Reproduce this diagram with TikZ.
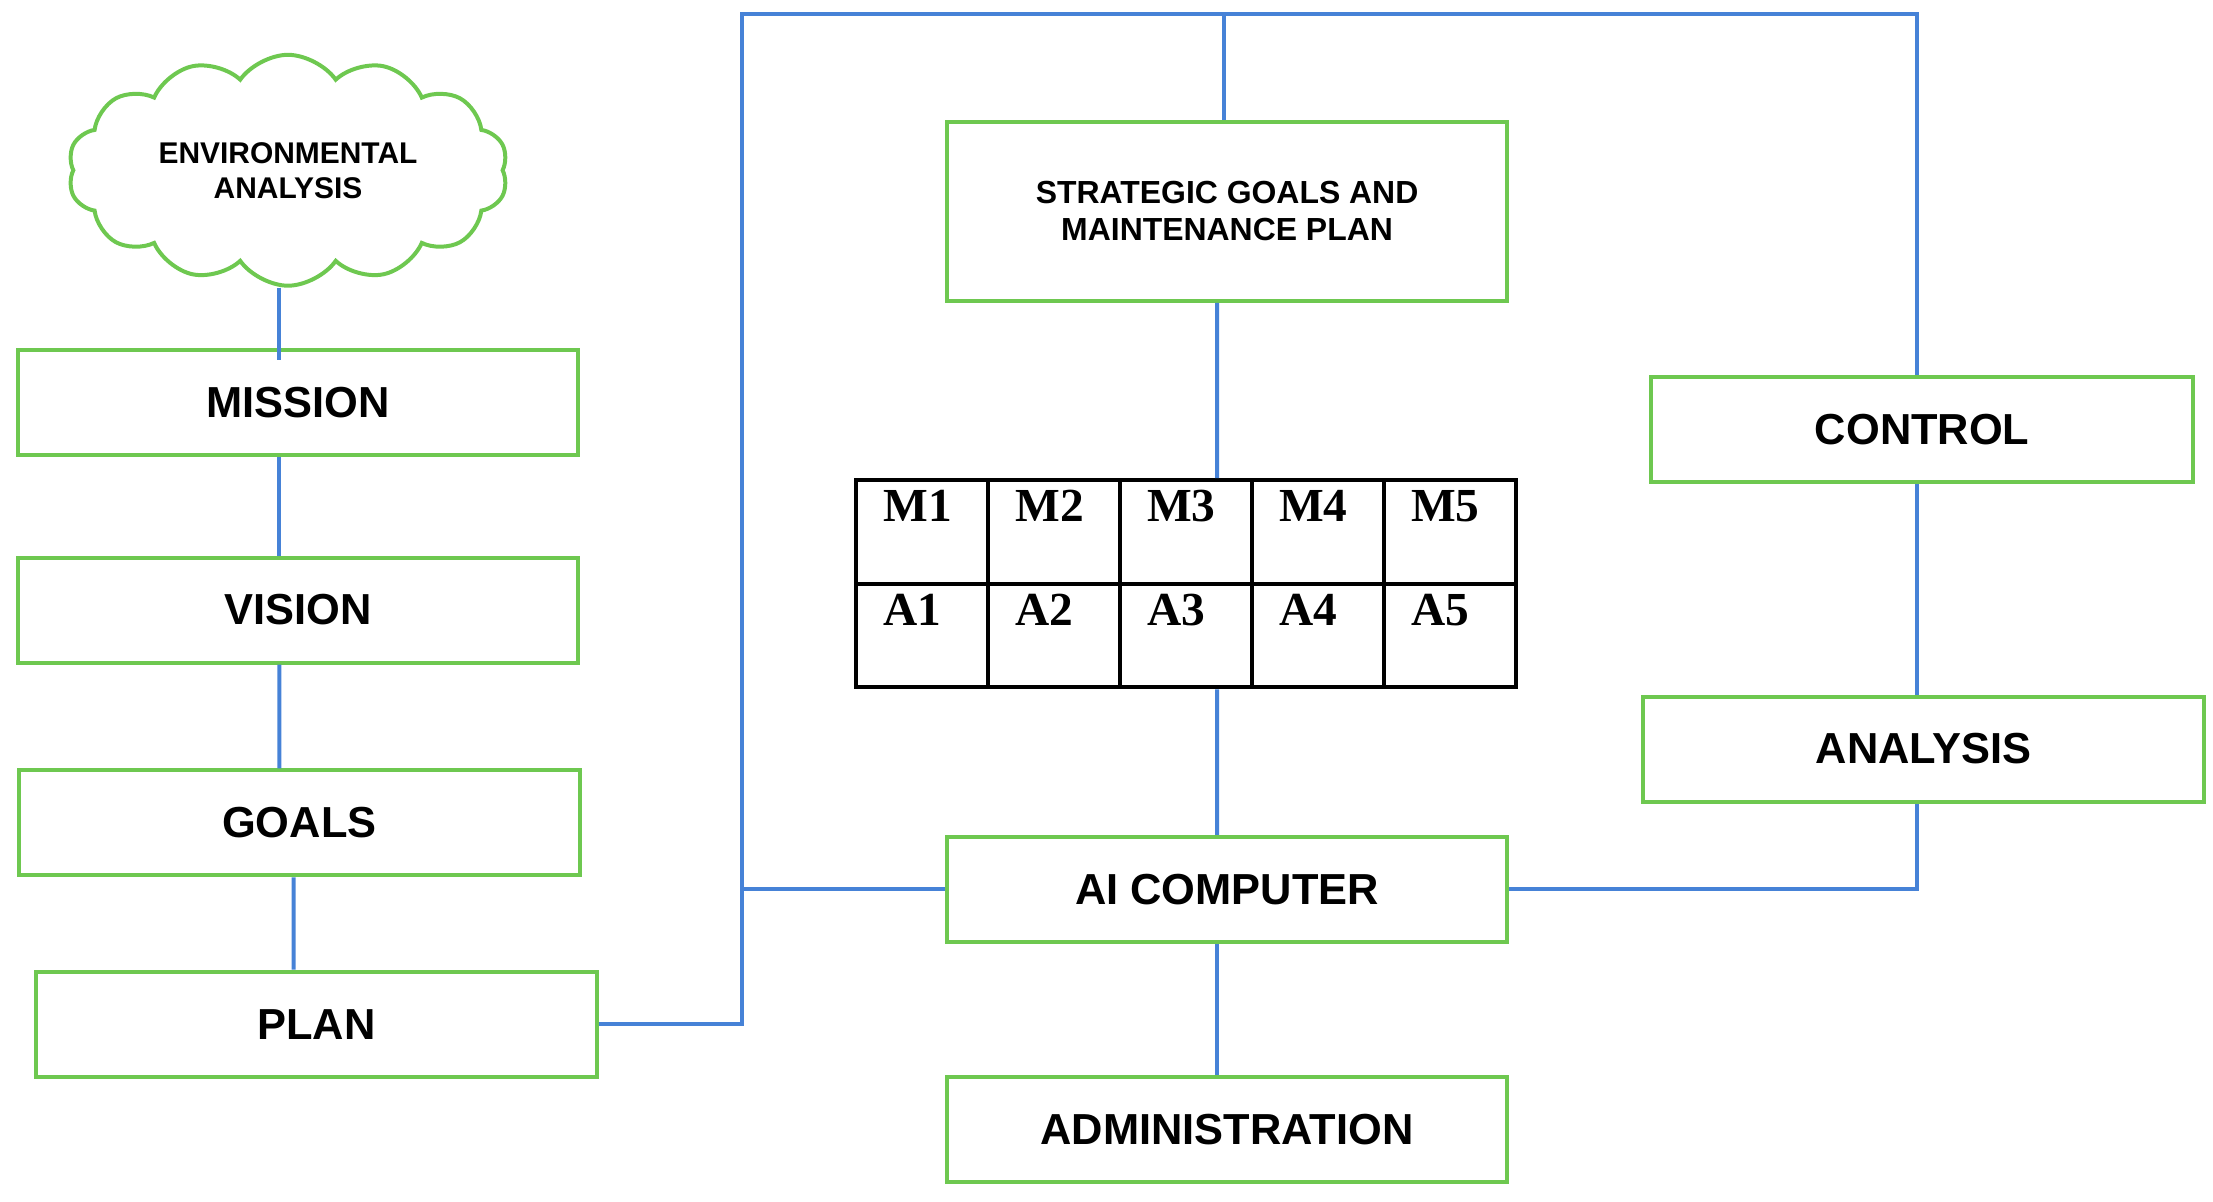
\documentclass[tikz,border=0pt]{standalone}
\usepackage{fontspec}
\setmainfont{Liberation Sans}
\newfontfamily\tabfont{Liberation Serif}
\usetikzlibrary{shapes.symbols}
\definecolor{boxgreen}{RGB}{110,200,80}
\definecolor{lineblue}{RGB}{70,130,215}
\tikzset{
  box/.style={rectangle, draw=boxgreen, line width=0.8pt, minimum width=3.95cm, minimum height=0.74cm, align=center, font=\fontsize{8.7}{10}\selectfont\bfseries},
  cell/.style={rectangle, draw=black, line width=0.8pt, minimum width=0.93cm, minimum height=0.73cm, inner sep=0pt, font=\tabfont\fontsize{9.5}{10}\selectfont\bfseries},
  wire/.style={draw=lineblue, line width=0.8pt}
}
\begin{document}
\begin{tikzpicture}[x=0.01cm,y=-0.01cm]
\useasboundingbox (0,0) rectangle (1560,847);

% Left column
\node[cloud, cloud puffs=14, cloud puff arc=110, aspect=2.2, draw=boxgreen, line width=0.8pt, minimum width=3.1cm, minimum height=1.45cm, align=center, font=\fontsize{6}{7}\selectfont\bfseries] (envAN) at (203,120) {ENVIRONMENTAL\\ANALYSIS};
\node[box] (mission) at (210,284) {MISSION};
\node[box] (vision) at (210,430) {VISION};
\node[box] (goals) at (211,580) {GOALS};
\node[box] (plan) at (223,722) {PLAN};

% Middle column
\node[box, minimum height=1.26cm, font=\fontsize{6.4}{7.4}\selectfont\bfseries] (strat) at (865,149) {STRATEGIC GOALS AND\\MAINTENANCE PLAN};
\foreach \i in {1,...,5}{
  \node[cell, anchor=north west] (m\i) at ({602+93*(\i-1)},337) {};
  \node[anchor=north west, inner sep=0pt, font=\tabfont\fontsize{9.5}{10}\selectfont\bfseries] at ({622+93*(\i-1)},345) {M\i};
  \node[cell, anchor=north west] (a\i) at ({602+93*(\i-1)},410) {};
  \node[anchor=north west, inner sep=0pt, font=\tabfont\fontsize{9.5}{10}\selectfont\bfseries] at ({622+93*(\i-1)},418) {A\i};
}
\node[box] (aicomp) at (865,627) {AI COMPUTER};
\node[box] (admin) at (865,796) {ADMINISTRATION};

% Right column
\node[box, minimum width=3.82cm] (control) at (1355,303) {CONTROL};
\node[box] (analysis) at (1356,528) {ANALYSIS};

% Connectors
\coordinate (topL) at (523,10);
\coordinate (topR) at (1351,10);
\draw[wire] (envAN.south -| mission.north) ++(-13,0) -- ++(0,51);
\draw[wire] ([xshift=-0.13cm]mission.south) -- ([xshift=-0.13cm]vision.north);
\draw[wire] ([xshift=-0.13cm]vision.south) -- ([xshift=-0.14cm]goals.north);
\draw[wire] ([xshift=-0.04cm]goals.south) -- ([xshift=-0.16cm]plan.north);
\draw[wire] (plan.east) -- (plan.east -| topL) -- (topL) -- (topR) -- (control.north -| topR);
\draw[wire] (strat.north -| 863,0) -- (863,10);
\draw[wire] ([xshift=-0.07cm]strat.south) -- (m3.north -| 858,0);
\draw[wire] (a3.south -| 858,0) -- ([xshift=-0.07cm]aicomp.north);
\draw[wire] (aicomp.west) -- (aicomp.west -| topL);
\draw[wire] (aicomp.east) -- (aicomp.east -| topR) -- (analysis.south -| topR);
\draw[wire] (analysis.north -| topR) -- (control.south -| topR);
\draw[wire] ([xshift=-0.07cm]aicomp.south) -- ([xshift=-0.07cm]admin.north);

\end{tikzpicture}
\end{document}
